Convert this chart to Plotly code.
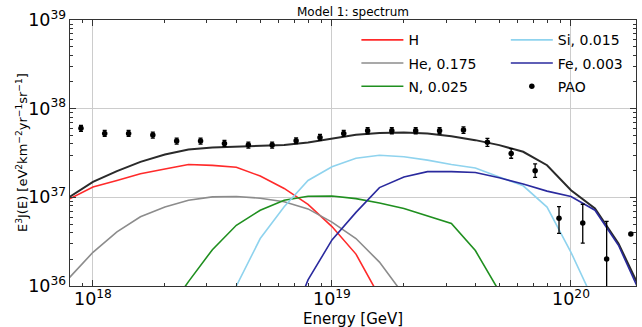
import plotly.graph_objects as go

SCALE = 1e36  # values below are in units of 1e36 eV^2 km^-2 yr^-1 sr^-1

# model energy grid (log10 E = 17.9 ... 20.3)
E_model = [7.94e17, 1.0e18, 1.26e18, 1.58e18, 2.0e18, 2.51e18, 3.16e18, 3.98e18,
           5.01e18, 6.31e18, 7.94e18, 1.0e19, 1.26e19, 1.58e19, 2.0e19, 2.51e19,
           3.16e19, 3.98e19, 5.01e19, 6.31e19, 7.94e19, 1.0e20, 1.26e20, 1.58e20, 2.0e20]

N_ = None
H_vals = [9.55, 13.09, 15.49, 18.41, 20.89, 23.44, 22.91, 21.88, 17.38, 12.59, 8.32, 4.68,
          2.29, 0.76, N_, N_, N_, N_, N_, N_, N_, N_, N_, N_, N_]
He_vals = [1.23, 2.40, 4.07, 6.03, 7.76, 9.27, 10.12, 10.23, 9.77, 8.91, 7.41, 5.25, 3.43,
           1.86, 0.79, N_, N_, N_, N_, N_, N_, N_, N_, N_, N_]
N_vals = [N_, N_, N_, N_, 0.47, 1.12, 2.57, 4.84, 7.16, 9.27, 10.28, 10.35, 9.68, 8.65,
          7.48, 6.12, 5.07, 2.51, 0.87, N_, N_, N_, N_, N_, N_]
Si_vals = [N_, N_, N_, N_, N_, N_, 0.25, 1.0, 3.43, 7.82, 15.49, 22.13, 27.54, 29.85,
           28.64, 26.30, 23.44, 21.38, 16.98, 13.49, 7.76, 2.40, 0.63, N_, N_]
Fe_vals = [N_, N_, N_, N_, N_, N_, N_, N_, N_, 0.25, 1.17, 3.31, 6.76, 12.88, 16.98,
           19.50, 19.50, 19.05, 16.60, 14.13, 11.75, 10.23, 7.16, 2.88, 0.71]
Total_vals = [10.0, 14.96, 19.72, 25.12, 30.41, 34.67, 36.48, 37.15, 37.76, 38.82, 41.59,
              45.71, 50.70, 53.33, 53.95, 52.48, 48.98, 44.16, 38.82, 32.66, 23.01, 12.02,
              7.48, 3.02, 0.79]

# PAO data
E_pao = [8.91e17, 1.12e18, 1.41e18, 1.78e18, 2.24e18, 2.82e18, 3.55e18, 4.47e18, 5.62e18,
         7.08e18, 8.91e18, 1.12e19, 1.41e19, 1.78e19, 2.24e19, 2.82e19, 3.55e19, 4.47e19,
         5.62e19, 7.08e19, 8.91e19, 1.12e20, 1.41e20, 1.78e20]
PAO_vals = [59.98, 52.60, 52.60, 50.35, 43.05, 43.05, 40.55, 38.82, 38.82, 43.45, 47.4,
            52.60, 56.36, 56.36, 56.36, 56.36, 57.3, 41.7, 31.3, 20.0, 5.82, 5.14, 2.02, 3.86]
PAO_up = [4.9, 4.3, 4.3, 4.1, 3.5, 3.5, 3.3, 3.2, 3.2, 3.5, 3.9, 4.3, 4.6, 4.6, 4.6, 4.6,
          5.1, 4.6, 4.2, 3.9, 2.03, 3.22, 3.35, 0]
PAO_down = [4.5, 3.9, 3.9, 3.8, 3.2, 3.2, 3.0, 2.9, 2.9, 3.2, 3.6, 3.9, 4.2, 4.2, 4.2, 4.2,
            4.7, 4.1, 3.7, 3.2, 1.89, 2.09, 1.92, 0]

def sc(arr):
    return [None if v is None else v * SCALE for v in arr]

fig = go.Figure()

fig.add_trace(go.Scatter(x=E_model, y=sc(Total_vals), mode="lines",
                         line=dict(color="#2a2a2a", width=2), showlegend=False))
series = [
    ("H", H_vals, "#ff2a2a", "legend"),
    ("He, 0.175", He_vals, "#8c8c8c", "legend"),
    ("N, 0.025", N_vals, "#1f8f1f", "legend"),
    ("Si, 0.015", Si_vals, "#8fd3ee", "legend2"),
    ("Fe, 0.003", Fe_vals, "#2a2a9e", "legend2"),
]
for name, vals, col, lg in series:
    fig.add_trace(go.Scatter(x=E_model, y=sc(vals), mode="lines", name=name,
                             legendgroup=name, line=dict(color=col, width=1.6), legend=lg))

fig.add_trace(go.Scatter(
    x=E_pao, y=sc(PAO_vals), mode="markers", name="PAO", legend="legend2", legendgroup="PAO",
    marker=dict(color="black", size=5.5), cliponaxis=False,
    error_y=dict(type="data", symmetric=False, array=sc(PAO_up), arrayminus=sc(PAO_down),
                 color="black", thickness=1.3, width=2)))

axis_common = dict(
    type="log", dtick=1, exponentformat="power", showexponent="all",
    showline=True, linecolor="#333333", linewidth=1.2, mirror="ticks",
    ticks="inside", ticklen=6, tickcolor="#333333", tickwidth=1,
    showgrid=True, gridcolor="#cccccc", gridwidth=1,
    minor=dict(ticks="inside", ticklen=3, tickcolor="#333333", dtick="D1", showgrid=False),
    tickfont=dict(size=14, color="black"), zeroline=False, automargin=False,
)

fig.update_xaxes(**axis_common, range=[17.904, 20.272], ticklabelstandoff=-2)
fig.update_yaxes(**axis_common, range=[36, 39])

fig.update_layout(
    width=642, height=327,
    margin=dict(l=70, r=6, t=20, b=41),
    plot_bgcolor="white", paper_bgcolor="white",
    font=dict(family="DejaVu Sans", color="black"),
    title=dict(text="Model 1: spectrum", x=0.5, xref="paper", xanchor="center",
               y=1 - 12 / 327, yref="container", yanchor="middle", font=dict(size=12)),
    legend=dict(x=0.506, y=0.984, xanchor="left", yanchor="top", bgcolor="rgba(0,0,0,0)",
                font=dict(size=14), borderwidth=0, tracegroupgap=2, itemwidth=42),
    legend2=dict(x=0.770, y=0.984, xanchor="left", yanchor="top", bgcolor="rgba(0,0,0,0)",
                 font=dict(size=14), borderwidth=0, tracegroupgap=2, itemwidth=42),
    annotations=[
        dict(text="Energy [GeV]", xref="paper", yref="paper", x=0.5, y=-0.0840,
             xanchor="center", yanchor="top", showarrow=False, font=dict(size=15)),
        dict(text="E<sup>3</sup>J(E) [eV<sup>2</sup>km<sup>−2</sup>yr<sup>−1</sup>sr<sup>−1</sup>]",
             xref="paper", yref="paper", x=(22 - 70) / 566, y=0.5, textangle=-90,
             xanchor="center", yanchor="middle", showarrow=False, font=dict(size=13)),
    ],
)

fig.write_html("out.html", config={"displayModeBar": False},
               post_script="document.body.style.margin='0';document.body.style.padding='0';")
